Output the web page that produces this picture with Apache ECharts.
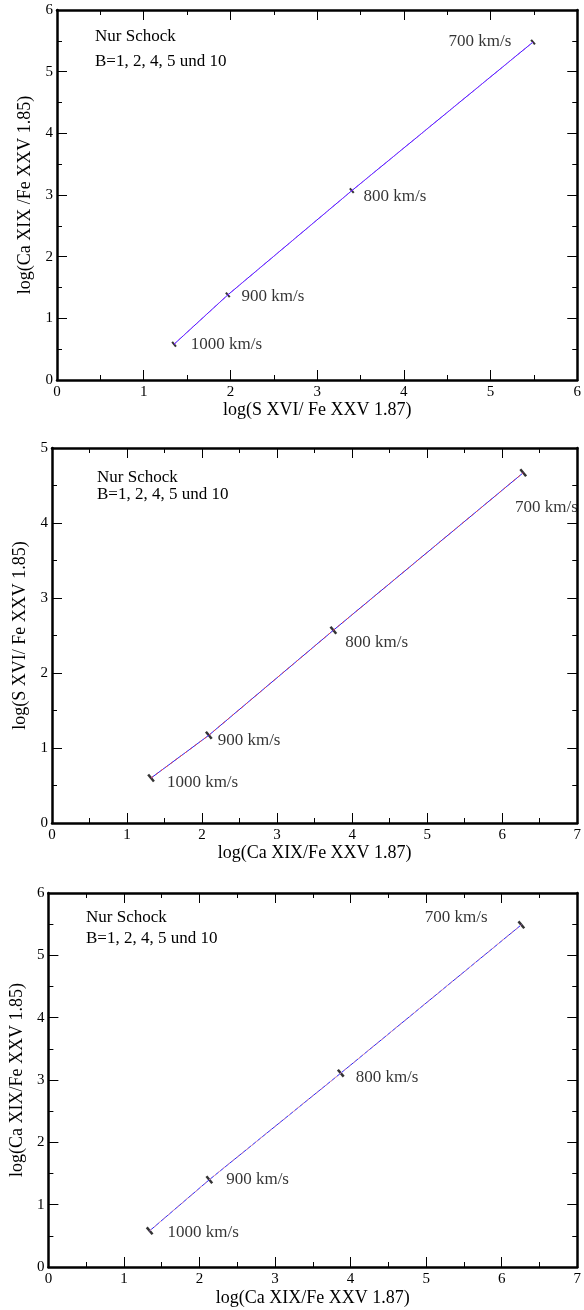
<!DOCTYPE html>
<html>
<head>
<meta charset="utf-8">
<script src="https://cdn.jsdelivr.net/npm/echarts@6/dist/echarts.min.js"></script>
<style>
html,body{margin:0;padding:0;background:#fff;}
#chart{width:584px;height:1310px;}
</style>
</head>
<body>
<div id="chart"></div>
<script>
// ---- data ----
const speedLabels = ['1000 km/s', '900 km/s', '800 km/s', '700 km/s'];
const p1X = [1.35, 1.97, 3.40, 5.49];
const p1Y = [0.58, 1.38, 3.07, 5.48];
const p2X = [1.32, 2.09, 3.75, 6.28];
const p2Y = [0.60, 1.17, 2.57, 4.67];
const p3X = [1.34, 2.13, 3.87, 6.26];
const p3Y = [0.58, 1.40, 3.11, 5.49];
const xMax = [6, 7, 7];
const yMax = [6, 5, 6];
const xTitles = ['log(S XVI/ Fe XXV 1.87)', 'log(Ca XIX/Fe XXV 1.87)', 'log(Ca XIX/Fe XXV 1.87)'];
const yTitles = ['log(Ca XIX /Fe XXV 1.85)', 'log(S XVI/ Fe XXV 1.85)', 'log(Ca XIX/Fe XXV 1.85)'];
const noteLine1 = 'Nur Schock';
const noteLine2 = 'B=1, 2, 4, 5 und 10';

// ---- layout / style ----
const FONT = 'Liberation Serif';
const grids = [
  {left: 57, top: 10, width: 526, height: 370},
  {left: 52, top: 448, width: 532, height: 375},
  {left: 48, top: 893, width: 533, height: 374}
];
const nameGapsX = [21, 21, 22];
const nameGapsY = [18, 18, 19];
// label offsets per panel per point: [side, dx, dy]
const labelLayout = [
  [['right', 14, 0], ['right', 11, 2], ['right', 9, 6], ['left', -19, -1]],
  [['right', 12, 5], ['right', 5, 5], ['right', 8, 12], ['right', -12, 35]],
  [['right', 14, 2], ['right', 13, 0], ['right', 11, 4], ['left', -30, -7]]
];
const markerSize = [[6, 2], [9, 2.5], [9, 2.5]];
const lineColors = [['#3a1cff', '#9b30ff'], ['#2020ff', '#e8474a'], ['#2525ff', '#e89aa0']];
const notePos = [[95, 24], [97, 469], [86, 907]];
const noteLineHeights = [25, 17, 21];
const panelX = [p1X, p2X, p3X];
const panelY = [p1Y, p2Y, p3Y];

const xAxes = [], yAxes = [], series = [], graphics = [];
function axisCommon(max, showLabel) {
  return {
    type: 'value', min: 0, max: max, interval: 1,
    axisLine: {show: true, onZero: false, lineStyle: {color: '#000', width: 2.5}},
    axisTick: {show: true, inside: true, length: 10, lineStyle: {color: '#000', width: 1}},
    minorTick: {show: true, splitNumber: 2, length: 5, lineStyle: {color: '#000', width: 1}},
    splitLine: {show: false},
    axisLabel: {show: showLabel, color: '#000', fontFamily: FONT, fontSize: 15, margin: 4}
  };
}
for (let i = 0; i < 3; i++) {
  const xb = axisCommon(xMax[i], true);
  Object.assign(xb, {gridIndex: i, position: 'bottom', name: xTitles[i], nameLocation: 'middle',
    nameGap: nameGapsX[i], nameTextStyle: {color: '#000', fontFamily: FONT, fontSize: 18}});
  xb.axisLabel.margin = 5;
  const xt = axisCommon(xMax[i], false);
  Object.assign(xt, {gridIndex: i, position: 'top'});
  const yl = axisCommon(yMax[i], true);
  Object.assign(yl, {gridIndex: i, position: 'left', name: yTitles[i], nameLocation: 'middle',
    nameGap: nameGapsY[i], nameRotate: 90, nameTextStyle: {color: '#000', fontFamily: FONT, fontSize: 18}});
  const yr = axisCommon(yMax[i], false);
  Object.assign(yr, {gridIndex: i, position: 'right'});
  xAxes.push(xb, xt);
  yAxes.push(yl, yr);

  const pts = panelX[i].map((x, k) => [x, panelY[i][k]]);
  series.push({
    type: 'line', xAxisIndex: 2 * i, yAxisIndex: 2 * i, data: pts, showSymbol: false,
    lineStyle: {color: lineColors[i][0], width: 1}, silent: true, animation: false
  });
  series.push({
    type: 'line', xAxisIndex: 2 * i, yAxisIndex: 2 * i, data: pts, showSymbol: false,
    lineStyle: {color: lineColors[i][1], width: 1, type: [3, 3]}, silent: true, animation: false
  });
  series.push({
    type: 'scatter', xAxisIndex: 2 * i, yAxisIndex: 2 * i, animation: false,
    symbol: 'rect', symbolSize: markerSize[i], symbolRotate: -50,
    itemStyle: {color: '#000'},
    data: pts.map((p, k) => ({
      value: p, name: speedLabels[k],
      label: {
        show: true, position: labelLayout[i][k][0], distance: 0,
        offset: [labelLayout[i][k][1], labelLayout[i][k][2]],
        formatter: '{b}', color: '#000', fontFamily: FONT, fontSize: 17
      }
    }))
  });
  graphics.push({
    type: 'text', left: notePos[i][0], top: notePos[i][1],
    style: {text: noteLine1 + '\n' + noteLine2, fill: '#000', font: '17px "' + FONT + '"', lineHeight: noteLineHeights[i]}
  });
}

const chart = echarts.init(document.getElementById('chart'), null, {renderer: 'canvas'});
chart.setOption({
  animation: false,
  backgroundColor: '#fff',
  grid: grids.map(g => Object.assign({containLabel: false}, g)),
  xAxis: xAxes,
  yAxis: yAxes,
  series: series,
  graphic: graphics
});
</script>
</body>
</html>
